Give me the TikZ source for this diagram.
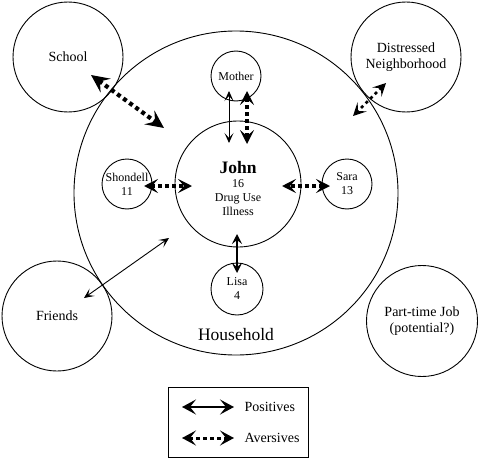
\documentclass[tikz,border=0pt]{standalone}
\usepackage{fontspec}
\setmainfont{Liberation Serif}
\usetikzlibrary{arrows.meta}
\begin{document}
\begin{tikzpicture}[x=1pt,y=-1pt,
  ring/.style={circle,draw,line width=0.9pt,inner sep=0pt,align=center},
  small/.style={font=\fontsize{12}{14}\selectfont},
  mid/.style={font=\fontsize{14}{16}\selectfont},
  posarrow/.style={line width=0.9pt,{Stealth[length=10pt,width=9pt,inset=5pt]}-{Stealth[length=10pt,width=9pt,inset=5pt]}},
  posthick/.style={line width=1.8pt,{Stealth[length=10pt,width=10pt,inset=4pt]}-{Stealth[length=10pt,width=10pt,inset=4pt]}},
  avr/.style={line width=3.5pt,dash pattern=on 3.5pt off 3.5pt,{Stealth[length=14pt,width=14pt,inset=6pt]}-{Stealth[length=14pt,width=14pt,inset=6pt]}},
  avrbig/.style={line width=4.2pt,dash pattern=on 4pt off 3.5pt,{Stealth[length=18pt,width=17pt,inset=7pt]}-{Stealth[length=18pt,width=17pt,inset=7pt]}},
  avrthin/.style={line width=2.8pt,dash pattern=on 3pt off 3.5pt,{Stealth[length=13pt,width=13pt,inset=6pt]}-{Stealth[length=13pt,width=13pt,inset=6pt]}},
  legpos/.style={line width=2.8pt,{Stealth[length=14pt,width=15pt,inset=6pt]}-{Stealth[length=14pt,width=15pt,inset=6pt]}},
  legavr/.style={line width=3pt,dash pattern=on 3.5pt off 3.5pt,{Stealth[length=14pt,width=15pt,inset=6pt]}-{Stealth[length=14pt,width=15pt,inset=6pt]}},
]
\useasboundingbox (0,0) rectangle (479,460);
% circles
\node[ring,minimum size=324pt] (household) at (236,193) {};
\node[font=\fontsize{17.5}{19}\selectfont] (hhlabel) at (236,335) {Household};
\node[ring,minimum size=126pt] (john) at (238,184) {};
\node[small,align=center] (johntext) at (238,188) {{\fontsize{17.5}{19}\selectfont\bfseries John}\\16\\Drug Use\\Illness};
\node[ring,small,minimum size=50pt] (mother) at (236,76) {Mother};
\node[ring,small,minimum size=50pt] (shondell) at (127,184) {Shondell\\11};
\node[ring,small,minimum size=50pt] (sara) at (347,184) {Sara\\13};
\node[ring,small,minimum size=52pt] (lisa) at (237,289) {Lisa\\4};
\node[ring,mid,minimum size=110pt] (school) at (68,57) {School};
\node[ring,mid,minimum size=110pt] (neigh) at (406,57) {Distressed\\Neighborhood};
\node[ring,mid,minimum size=110pt] (friends) at (57,316) {Friends};
\node[ring,mid,minimum size=111pt] (job) at (422,321) {Part-time Job\\(potential?)};
% arrow ends
\coordinate (sa) at (91,75); \coordinate (sb) at (164,128);
\coordinate (na) at (386,83); \coordinate (nb) at (353,116);
\coordinate (mpa) at (229,91); \coordinate (mpb) at (229,143);
\coordinate (maa) at (247,91); \coordinate (mab) at (247,144);
\coordinate (sha) at (144,186); \coordinate (shb) at (192,186);
\coordinate (saa) at (330,186); \coordinate (sab) at (282,186);
\coordinate (la) at (237,273); \coordinate (lb) at (237,234);
\coordinate (fa) at (84,298); \coordinate (fb) at (169,238);
\draw[avrbig] (sa) -- (sb);
\draw[avrthin] (na) -- (nb);
\draw[posarrow] (mpa) -- (mpb);
\draw[avr] (maa) -- (mab);
\draw[avr] (sha) -- (shb);
\draw[avr] (saa) -- (sab);
\draw[posthick] (la) -- (lb);
\draw[posarrow] (fa) -- (fb);
% legend
\node[draw,line width=0.8pt,minimum width=140pt,minimum height=70pt,inner sep=0pt] (legend) at (238,422) {};
\coordinate (lpa) at (182,407); \coordinate (lpb) at (234,407);
\coordinate (laa) at (182,438); \coordinate (lab) at (234,438);
\draw[legpos] (lpa) -- (lpb);
\draw[legavr] (laa) -- (lab);
\node[mid,anchor=west] (postext) at (241,407) {Positives};
\node[mid,anchor=west] (avrtext) at (241,438) {Aversives};
\end{tikzpicture}
\end{document}
